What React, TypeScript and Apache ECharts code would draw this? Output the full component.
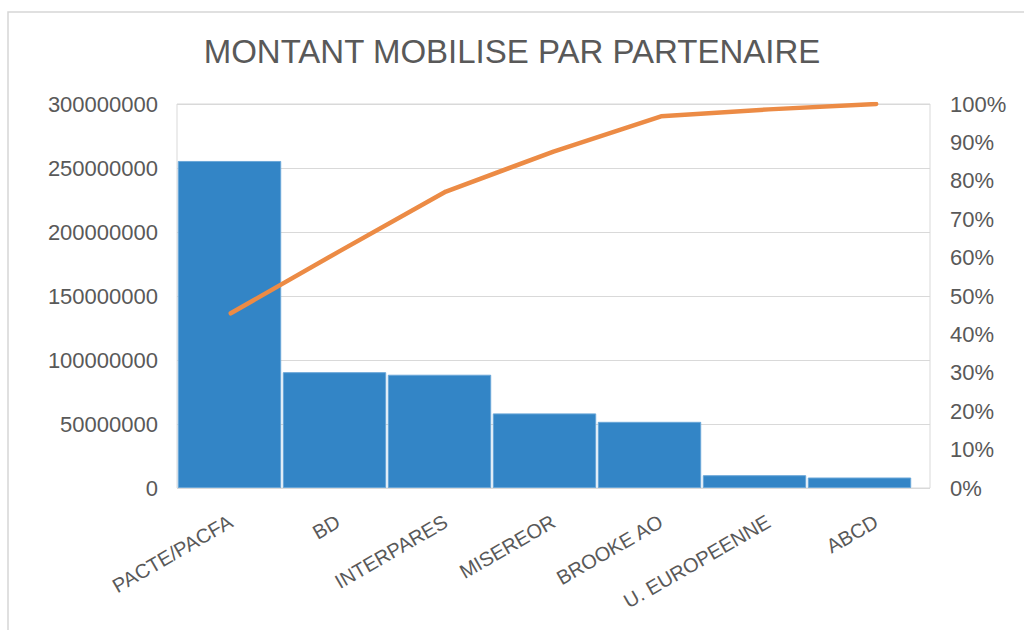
import React, { useEffect, useRef } from "react";
import * as echarts from "echarts";

const titleText = "MONTANT MOBILISE PAR PARTENAIRE";
const categories = ["PACTE/PACFA", "BD", "INTERPARES", "MISEREOR", "BROOKE AO", "U. EUROPEENNE", "ABCD"];
const amounts = [255500000, 90500000, 88500000, 58300000, 51700000, 10000000, 8200000];
const cumulativeShare = [0.455, 0.615, 0.772, 0.876, 0.968, 0.986, 1.0];
const leftMax = 300000000;
const leftInterval = 50000000;

const textColor = "#595959";
const gridColor = "#d9d9d9";
const barColor = "#3385c6";
const lineColor = "#ec8b45";
const font = "'Liberation Sans', Arial, sans-serif";

export default function App() {
  const ref = useRef<HTMLDivElement>(null);
  useEffect(() => {
    document.body.style.margin = "0";
    const chart = echarts.init(ref.current!, null, { renderer: "svg" });
    chart.setOption({
      animation: false,
      backgroundColor: "#ffffff",
      textStyle: { fontFamily: font },
      title: {
        text: titleText,
        left: "center",
        top: 30,
        textStyle: { fontSize: 33, fontWeight: "normal", color: textColor, fontFamily: font },
      },
      graphic: [
        {
          type: "rect",
          shape: { x: 8, y: 12, width: 1100, height: 700 },
          style: { fill: "none", stroke: "#d6d6d6", lineWidth: 1.5 },
          silent: true,
          z: -10,
        },
      ],
      grid: [
        { left: 177, right: 112, top: 104, bottom: 142 },
        { left: 177, right: 94, top: 104, bottom: 142, show: true, borderColor: gridColor, borderWidth: 1, backgroundColor: "transparent" },
      ],
      xAxis: [
        {
          type: "category",
          gridIndex: 0,
          data: categories,
          axisLine: { show: false },
          axisTick: { show: false },
          axisLabel: { show: false },
        },
        {
          type: "category",
          gridIndex: 1,
          data: categories,
          axisLine: { show: false },
          axisTick: { show: false },
          axisLabel: {
            rotate: 30,
            margin: 32,
            fontSize: 20,
            color: textColor,
            interval: 0,
            fontFamily: font,
          },
        },
      ],
      yAxis: [
        {
          type: "value",
          gridIndex: 0,
          min: 0,
          max: leftMax,
          interval: leftInterval,
          axisLabel: { show: false },
          axisLine: { show: false },
          axisTick: { show: false },
          splitLine: { show: false },
        },
        {
          type: "value",
          gridIndex: 1,
          position: "left",
          min: 0,
          max: leftMax,
          interval: leftInterval,
          axisLabel: {
            fontSize: 22,
            color: textColor,
            margin: 19,
            fontFamily: font,
            formatter: (v: number) => String(v),
          },
          axisLine: { show: false },
          axisTick: { show: false },
          splitLine: { show: true, lineStyle: { color: gridColor, width: 1 } },
        },
        {
          type: "value",
          gridIndex: 1,
          position: "right",
          min: 0,
          max: 1,
          interval: 0.1,
          axisLabel: {
            fontSize: 22,
            color: textColor,
            margin: 20,
            fontFamily: font,
            formatter: (v: number) => Math.round(v * 100) + "%",
          },
          axisLine: { show: false },
          axisTick: { show: false },
          splitLine: { show: false },
        },
      ],
      series: [
        {
          type: "bar",
          xAxisIndex: 0,
          yAxisIndex: 0,
          data: amounts,
          barCategoryGap: "1.5%",
          itemStyle: { color: barColor, borderColor: "#6aa7d8", borderWidth: 1 },
          z: 2,
        },
        {
          type: "line",
          xAxisIndex: 1,
          yAxisIndex: 2,
          data: cumulativeShare,
          symbol: "none",
          lineStyle: { color: lineColor, width: 4.5, cap: "round", join: "round" },
          z: 5,
        },
      ],
    });
    return () => chart.dispose();
  }, []);
  return <div ref={ref} style={{ position: "fixed", left: 0, top: 0, width: 1024, height: 630 }} />;
}
